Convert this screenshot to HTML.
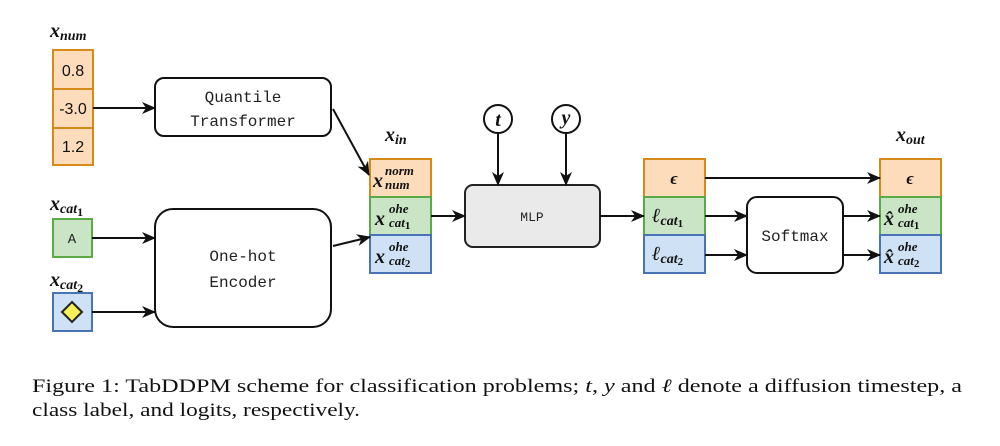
<!DOCTYPE html>
<html><head><meta charset="utf-8"><style>
html,body{margin:0;padding:0;background:#fff}
svg{display:block}
.m{font-family:"Liberation Serif",serif;font-style:italic;font-weight:bold;fill:#111}
.mono{font-family:"Liberation Mono","Courier New",monospace;fill:#222}
.sans{font-family:"Liberation Sans",sans-serif;fill:#111}
.cap{font-family:"Liberation Serif","Times New Roman",serif;font-size:19px;fill:#111}
</style></head><body>
<svg width="1000" height="446" viewBox="0 0 1000 446" xmlns="http://www.w3.org/2000/svg">
<defs><marker id="a" markerWidth="14" markerHeight="12" refX="13" refY="6" orient="auto" markerUnits="userSpaceOnUse"><path d="M0,0 L14,6 L0,12 L4,6 Z" fill="#111"/></marker></defs>
<g stroke-width="2">
<rect x="53" y="50" width="40" height="39" fill="#fddcbc" stroke="#d68a1a"/>
<rect x="53" y="89" width="40" height="39" fill="#fddcbc" stroke="#d68a1a"/>
<rect x="53" y="128" width="40" height="37" fill="#fddcbc" stroke="#d68a1a"/>
<rect x="53" y="219" width="39" height="38" fill="#c9e5c6" stroke="#5aab45"/>
<rect x="53" y="293" width="39" height="38" fill="#cfe1f5" stroke="#4a73b5"/>
<path d="M72,302 L82,312 L72,322 L62,312 Z" fill="#f8f05a" stroke="#222" stroke-width="2"/>
<rect x="155" y="78" width="176" height="58" rx="9" fill="#fff" stroke="#111"/>
<rect x="155" y="209" width="176" height="118" rx="18" fill="#fff" stroke="#111"/>
<rect x="370" y="159" width="61" height="38" fill="#fddcbc" stroke="#d68a1a"/>
<rect x="370" y="197" width="61" height="38" fill="#c9e5c6" stroke="#5aab45"/>
<rect x="370" y="235" width="61" height="38" fill="#cfe1f5" stroke="#4a73b5"/>
<rect x="465" y="185" width="135" height="62" rx="8" fill="#ebeaeb" stroke="#222"/>
<circle cx="498" cy="119" r="14" fill="#fff" stroke="#111"/>
<circle cx="566" cy="119" r="14" fill="#fff" stroke="#111"/>
<rect x="644" y="159" width="61" height="38" fill="#fddcbc" stroke="#d68a1a"/>
<rect x="644" y="197" width="61" height="38" fill="#c9e5c6" stroke="#5aab45"/>
<rect x="644" y="235" width="61" height="38" fill="#cfe1f5" stroke="#4a73b5"/>
<rect x="747" y="197" width="96" height="76" rx="10" fill="#fff" stroke="#111"/>
<rect x="880" y="159" width="61" height="38" fill="#fddcbc" stroke="#d68a1a"/>
<rect x="880" y="197" width="61" height="38" fill="#c9e5c6" stroke="#5aab45"/>
<rect x="880" y="235" width="61" height="38" fill="#cfe1f5" stroke="#4a73b5"/>
</g>
<g stroke="#111" stroke-width="2" fill="none" marker-end="url(#a)">
<line x1="93" y1="108" x2="155" y2="108"/>
<line x1="92" y1="238" x2="155" y2="238"/>
<line x1="92" y1="312" x2="155" y2="312"/>
<line x1="333" y1="109" x2="369" y2="175"/>
<line x1="333" y1="246" x2="370" y2="237"/>
<line x1="431" y1="216" x2="465" y2="216"/>
<line x1="498" y1="133" x2="498" y2="185"/>
<line x1="566" y1="133" x2="566" y2="185"/>
<line x1="600" y1="216" x2="644" y2="216"/>
<line x1="705" y1="178" x2="880" y2="178"/>
<line x1="705" y1="216" x2="747" y2="216"/>
<line x1="705" y1="255" x2="747" y2="255"/>
<line x1="843" y1="216" x2="880" y2="216"/>
<line x1="843" y1="255" x2="880" y2="255"/>
</g>
<text class="m" x="50" y="37" font-size="20">x<tspan font-size="14" dy="3">num</tspan></text>
<text class="m" x="50" y="210" font-size="20">x<tspan font-size="14" dy="3">cat</tspan><tspan font-size="12" dy="3" font-style="normal">1</tspan></text>
<text class="m" x="50" y="286" font-size="20">x<tspan font-size="14" dy="3">cat</tspan><tspan font-size="12" dy="3" font-style="normal">2</tspan></text>
<text class="m" x="385" y="141" font-size="20">x<tspan font-size="14" dy="3">in</tspan></text>
<text class="m" x="896" y="141" font-size="20">x<tspan font-size="14" dy="3">out</tspan></text>
<text class="sans" x="73" y="76" font-size="16" text-anchor="middle">0.8</text>
<text class="sans" x="73" y="114" font-size="16" text-anchor="middle">-3.0</text>
<text class="sans" x="73" y="152" font-size="16" text-anchor="middle">1.2</text>
<text class="mono" x="72" y="243" font-size="14" text-anchor="middle">A</text>
<text class="mono" x="243" y="102" font-size="16" text-anchor="middle">Quantile</text>
<text class="mono" x="243" y="126" font-size="16" text-anchor="middle">Transformer</text>
<text class="mono" x="243" y="261" font-size="16" text-anchor="middle">One-hot</text>
<text class="mono" x="243" y="287" font-size="16" text-anchor="middle">Encoder</text>
<text class="mono" x="532" y="221" font-size="13" text-anchor="middle">MLP</text>
<text class="mono" x="795" y="241" font-size="16" text-anchor="middle">Softmax</text>
<text class="m" x="498" y="126" font-size="20" text-anchor="middle">t</text>
<text class="m" x="566" y="124" font-size="20" text-anchor="middle">y</text>
<text class="m" x="373" y="187" font-size="20">x</text><text class="m" x="385" y="175" font-size="13">norm</text><text class="m" x="385" y="189" font-size="13">num</text>
<text class="m" x="375" y="225" font-size="20">x</text><text class="m" x="389" y="213" font-size="13">ohe</text><text class="m" x="389" y="227" font-size="13">cat<tspan font-style="normal" font-size="11" dy="2">1</tspan></text>
<text class="m" x="375" y="263" font-size="20">x</text><text class="m" x="389" y="251" font-size="13">ohe</text><text class="m" x="389" y="265" font-size="13">cat<tspan font-style="normal" font-size="11" dy="2">2</tspan></text>
<text class="m" x="674" y="184" font-size="17" text-anchor="middle" font-weight="normal">ϵ</text>
<text class="m" x="910" y="184" font-size="17" text-anchor="middle" font-weight="normal">ϵ</text>
<text class="m" x="652" y="222" font-size="20">ℓ<tspan font-size="14" dy="3">cat</tspan><tspan font-size="11" dy="2" font-style="normal">1</tspan></text>
<text class="m" x="652" y="260" font-size="20">ℓ<tspan font-size="14" dy="3">cat</tspan><tspan font-size="11" dy="2" font-style="normal">2</tspan></text>
<text class="m" x="884" y="225" font-size="20">x̂</text><text class="m" x="898" y="213" font-size="13">ohe</text><text class="m" x="898" y="227" font-size="13">cat<tspan font-style="normal" font-size="11" dy="2">1</tspan></text>
<text class="m" x="884" y="263" font-size="20">x̂</text><text class="m" x="898" y="251" font-size="13">ohe</text><text class="m" x="898" y="265" font-size="13">cat<tspan font-style="normal" font-size="11" dy="2">2</tspan></text>
<text class="cap" x="32" y="392" textLength="930" lengthAdjust="spacingAndGlyphs">Figure 1:  TabDDPM scheme for classification problems; <tspan font-style="italic">t</tspan>, <tspan font-style="italic">y</tspan> and <tspan font-style="italic">ℓ</tspan> denote a diffusion timestep, a</text>
<text class="cap" x="32" y="416" textLength="328" lengthAdjust="spacingAndGlyphs">class label, and logits, respectively.</text>
</svg>
</body></html>
